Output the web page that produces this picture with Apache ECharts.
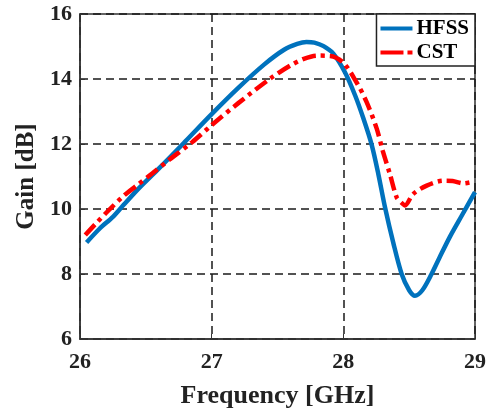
<!DOCTYPE html>
<html>
<head>
<meta charset="utf-8">
<script src="https://cdn.jsdelivr.net/npm/echarts@6/dist/echarts.min.js"></script>
<style>html,body{margin:0;padding:0;background:#fff;}#c{width:492px;height:414px;}</style>
</head>
<body>
<div id="c"></div>
<script>
var hfssX = [26.05, 26.15, 26.25, 26.33, 26.45, 26.6, 26.8, 27.0, 27.2, 27.4, 27.55, 27.65, 27.72, 27.78, 27.85, 27.924, 28.013, 28.089, 28.152, 28.215, 28.266, 28.316, 28.38, 28.443, 28.5, 28.544, 28.6, 28.67, 28.73, 28.81, 28.9, 29.0];
var hfssY = [8.97, 9.4, 9.76, 10.12, 10.65, 11.25, 12.08, 12.92, 13.72, 14.45, 14.9, 15.08, 15.14, 15.12, 15.01, 14.78, 14.2, 13.5, 12.79, 11.98, 11.07, 10.06, 8.95, 8.0, 7.5, 7.33, 7.5, 8.0, 8.5, 9.15, 9.8, 10.52];
var cstX = [26.04, 26.12, 26.22, 26.33, 26.43, 26.55, 26.68, 26.85, 27.0, 27.2, 27.44, 27.6, 27.7, 27.8, 27.9, 28.0, 28.1, 28.177, 28.253, 28.3, 28.354, 28.405, 28.44, 28.468, 28.53, 28.633, 28.76, 28.83, 28.91, 28.985];
var cstY = [9.2, 9.55, 9.97, 10.4, 10.72, 11.1, 11.52, 12.05, 12.58, 13.25, 14.0, 14.42, 14.62, 14.72, 14.71, 14.5, 13.9, 13.29, 12.48, 11.78, 11.07, 10.36, 10.2, 10.11, 10.46, 10.72, 10.87, 10.86, 10.79, 10.84];
var seriesNames = ['HFSS', 'CST'];
var xTicks = [26, 27, 28, 29];
var yTicks = [6, 8, 10, 12, 14, 16];

function pairs(xs, ys) { return xs.map(function (x, i) { return [x, ys[i]]; }); }

var font = 'Liberation Serif';
var chart = echarts.init(document.getElementById('c'));
chart.setOption({
  animation: false,
  backgroundColor: '#fff',
  grid: { left: 80, right: 17, top: 14, bottom: 69, show: true, borderColor: '#333', borderWidth: 1.5, backgroundColor: 'transparent' },
  legend: {
    data: [
      { name: seriesNames[0], icon: 'path://M0,0h32v4h-32z', itemStyle: { color: '#0072BD' } },
      { name: seriesNames[1], icon: 'path://M0,0h23v4h-23z M27,0h5v4h-5z', itemStyle: { color: '#FF0000' } }
    ],
    orient: 'vertical',
    right: 17, top: 14,
    itemWidth: 32, itemHeight: 5, itemGap: 3,
    padding: [4, 6, 3, 4],
    backgroundColor: '#fff',
    borderColor: '#222', borderWidth: 1.5, borderRadius: 0,
    textStyle: { fontFamily: font, fontWeight: 'bold', fontSize: 21, color: '#000', lineHeight: 21, padding: [0, 0, 0, -1] }
  },
  xAxis: {
    type: 'value', min: xTicks[0], max: xTicks[xTicks.length - 1], interval: 1,
    name: 'Frequency [GHz]', nameLocation: 'middle', nameGap: 44,
    nameTextStyle: { fontFamily: font, fontWeight: 'bold', fontSize: 26, color: '#222' },
    axisLine: { show: true, lineStyle: { color: '#333', width: 1.5 } },
    axisTick: { show: true, inside: true, length: 5, lineStyle: { color: '#333' } },
    axisLabel: { fontFamily: font, fontWeight: 'bold', fontSize: 22, color: '#222', margin: 12 },
    splitLine: { show: true, lineStyle: { color: '#1a1a1a', width: 1.5, type: [8, 5] } }
  },
  yAxis: {
    type: 'value', min: yTicks[0], max: yTicks[yTicks.length - 1], interval: 2,
    name: 'Gain [dB]', nameLocation: 'middle', nameGap: 41, nameRotate: 90,
    nameTextStyle: { fontFamily: font, fontWeight: 'bold', fontSize: 25, color: '#222' },
    axisLine: { show: true, lineStyle: { color: '#333', width: 1.5 } },
    axisTick: { show: true, inside: true, length: 5, lineStyle: { color: '#333' } },
    axisLabel: { fontFamily: font, fontWeight: 'bold', fontSize: 22, color: '#222', margin: 8 },
    splitLine: { show: true, lineStyle: { color: '#1a1a1a', width: 1.5, type: [8, 5] } }
  },
  series: [
    {
      name: seriesNames[0], type: 'line', data: pairs(hfssX, hfssY),
      showSymbol: false, symbol: 'none', smooth: 0.3,
      lineStyle: { color: '#0072BD', width: 4.5 }, itemStyle: { color: '#0072BD' }, z: 3
    },
    {
      name: seriesNames[1], type: 'line', data: pairs(cstX, cstY),
      showSymbol: false, symbol: 'none', smooth: 0.3,
      lineStyle: { color: '#FF0000', width: 4.5, type: [14, 5, 4, 5] }, itemStyle: { color: '#FF0000' }, z: 4
    }
  ]
});
</script>
</body>
</html>
